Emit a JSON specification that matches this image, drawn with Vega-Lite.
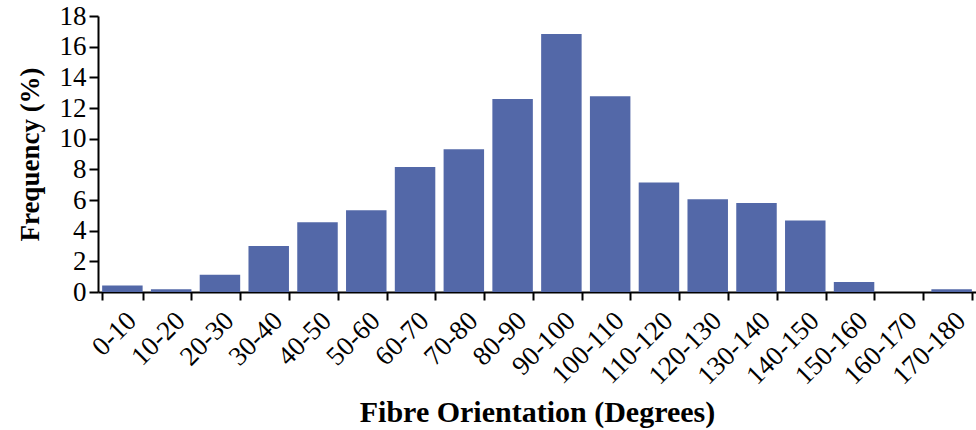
{
  "$schema": "https://vega.github.io/schema/vega-lite/v6.json",
  "width": 878,
  "height": 276,
  "autosize": {"type": "none"},
  "padding": {"left": 98, "top": 16, "right": 0, "bottom": 138},
  "background": "white",
  "data": {
    "values": [
      {"range": "0-10", "freq": 0.42},
      {"range": "10-20", "freq": 0.18},
      {"range": "20-30", "freq": 1.13},
      {"range": "30-40", "freq": 3.0},
      {"range": "40-50", "freq": 4.55},
      {"range": "50-60", "freq": 5.33},
      {"range": "60-70", "freq": 8.16},
      {"range": "70-80", "freq": 9.31},
      {"range": "80-90", "freq": 12.58},
      {"range": "90-100", "freq": 16.82},
      {"range": "100-110", "freq": 12.77},
      {"range": "110-120", "freq": 7.14},
      {"range": "120-130", "freq": 6.05},
      {"range": "130-140", "freq": 5.81},
      {"range": "140-150", "freq": 4.66},
      {"range": "150-160", "freq": 0.65},
      {"range": "160-170", "freq": 0.0},
      {"range": "170-180", "freq": 0.18}
    ]
  },
  "mark": {"type": "bar", "fill": "#5368A8"},
  "encoding": {
    "x": {
      "field": "range",
      "type": "ordinal",
      "sort": null,
      "scale": {"paddingInner": 0.17, "paddingOuter": 0.085},
      "axis": {
        "title": "Fibre Orientation (Degrees)",
        "tickBand": "extent",
        "labelAngle": -45,
        "labelFont": "Liberation Serif",
        "labelFontSize": 27,
        "labelColor": "black",
        "labelPadding": 7,
        "tickSize": 8,
        "tickWidth": 2,
        "tickColor": "black",
        "domainColor": "black",
        "domainWidth": 2,
        "titleFont": "Liberation Serif",
        "titleFontSize": 30,
        "titleFontWeight": "bold",
        "titleColor": "black",
        "titleBaseline": "alphabetic",
        "titleY": 129
      }
    },
    "y": {
      "field": "freq",
      "type": "quantitative",
      "scale": {"domain": [0, 18], "nice": false},
      "axis": {
        "title": "Frequency (%)",
        "values": [0, 2, 4, 6, 8, 10, 12, 14, 16, 18],
        "grid": false,
        "labelFont": "Liberation Serif",
        "labelFontSize": 27,
        "labelColor": "black",
        "labelPadding": 3,
        "tickSize": 9,
        "tickWidth": 2,
        "tickColor": "black",
        "domainColor": "black",
        "domainWidth": 2,
        "titleFont": "Liberation Serif",
        "titleFontSize": 27,
        "titleFontWeight": "bold",
        "titleColor": "black",
        "titlePadding": 15
      }
    }
  },
  "config": {"view": {"stroke": null}}
}
